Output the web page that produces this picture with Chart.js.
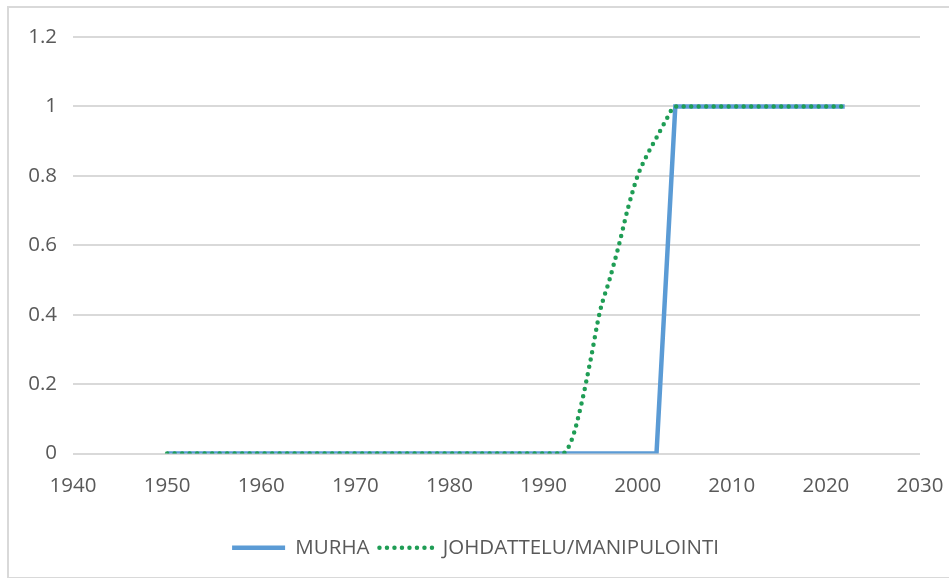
<!DOCTYPE html>
<html>
<head>
<meta charset="utf-8">
<script src="https://cdn.jsdelivr.net/npm/chart.js@4/dist/chart.umd.min.js"></script>
<style>
  html, body { margin: 0; padding: 0; background: #fff; overflow: hidden; }
  #frame { position: absolute; left: 7px; top: 6px; width: 1000px; height: 569px; border: 2px solid #d9d9d9; }
  #wrap { position: absolute; left: 0; top: 0; width: 949px; height: 578px; }
</style>
</head>
<body>
<div id="frame"></div>
<div id="wrap"><canvas id="kaavio"></canvas></div>
<script>
// MURHA
const murhaVuodet = [1950, 2002, 2004, 2022];
const murhaArvot = [0, 0, 1, 1];

// JOHDATTELU/MANIPULOINTI
const johVuodet = [1950, 1992, 1993, 1994, 1995, 1996, 1997, 1998, 1999, 2000, 2001, 2002, 2003, 2004, 2022];
const johArvot = [0, 0, 0.04, 0.14, 0.27, 0.41, 0.5, 0.6, 0.71, 0.8, 0.86, 0.91, 0.96, 1, 1];

const xTicks = [1940, 1950, 1960, 1970, 1980, 1990, 2000, 2010, 2020, 2030];

function pisteet(vuodet, arvot) {
  return vuodet.map((v, i) => ({ x: v, y: arvot[i] }));
}

const fontti = { family: 'Open Sans', size: 20.5 };

// y-akselin tekstit saavat ulottua vasempaan reunaan asti
const eiLeikkausta = {
  id: 'eiLeikkausta',
  afterLayout: chart => { chart.scales.y.left = 0; }
};

new Chart(document.getElementById('kaavio').getContext('2d'), {
  type: 'line',
  data: {
    datasets: [{
      label: 'MURHA',
      data: pisteet(murhaVuodet, murhaArvot),
      borderColor: '#5b9bd5',
      backgroundColor: '#5b9bd5',
      borderWidth: 4.5,
      pointRadius: 0,
      pointStyle: 'line',
      tension: 0,
      order: 1
    }, {
      label: 'JOHDATTELU/MANIPULOINTI',
      data: pisteet(johVuodet, johArvot),
      borderColor: '#1f9d55',
      backgroundColor: '#1f9d55',
      borderWidth: 4.5,
      borderDash: [0, 7.5],
      borderCapStyle: 'round',
      pointRadius: 0,
      pointStyle: 'line',
      cubicInterpolationMode: 'monotone',
      order: 0
    }]
  },
  options: {
    responsive: true,
    maintainAspectRatio: false,
    animation: false,
    layout: { padding: { top: 37, right: 29, left: 31, bottom: 10 } },
    scales: {
      x: {
        type: 'linear',
        min: 1940,
        max: 2030,
        afterBuildTicks: s => { s.ticks = xTicks.map(v => ({ value: v })); },
        afterFit: s => { s.height = 74; s.paddingLeft = 0; s.paddingRight = 0; },
        grid: { display: false },
        border: { display: false },
        ticks: { color: '#595959', font: fontti, padding: 12, maxRotation: 0, callback: v => String(v) }
      },
      y: {
        min: 0,
        max: 1.2,
        afterFit: s => { s.width = 42; s.paddingTop = 0; s.paddingBottom = 0; },
        grid: { color: '#d9d9d9', lineWidth: 2, drawTicks: false },
        border: { display: false },
        ticks: { stepSize: 0.2, color: '#595959', font: fontti, padding: 16,
                 callback: v => String(Math.round(v * 10) / 10) }
      }
    },
    plugins: {
      legend: {
        position: 'bottom',
        labels: {
          usePointStyle: true,
          pointStyleWidth: 53,
          color: '#595959',
          font: fontti,
          padding: 10,
          sort: (a, b) => a.datasetIndex - b.datasetIndex,
          generateLabels: chart => {
            const items = Chart.defaults.plugins.legend.labels.generateLabels(chart);
            items.forEach(it => {
              const ds = chart.data.datasets[it.datasetIndex];
              it.lineDash = ds.borderDash || [];
              it.lineCap = ds.borderCapStyle || 'butt';
              it.lineWidth = ds.borderWidth;
              it.strokeStyle = ds.borderColor;
            });
            return items;
          }
        }
      },
      tooltip: { enabled: false }
    }
  },
  plugins: [eiLeikkausta]
});
</script>
</body>
</html>
